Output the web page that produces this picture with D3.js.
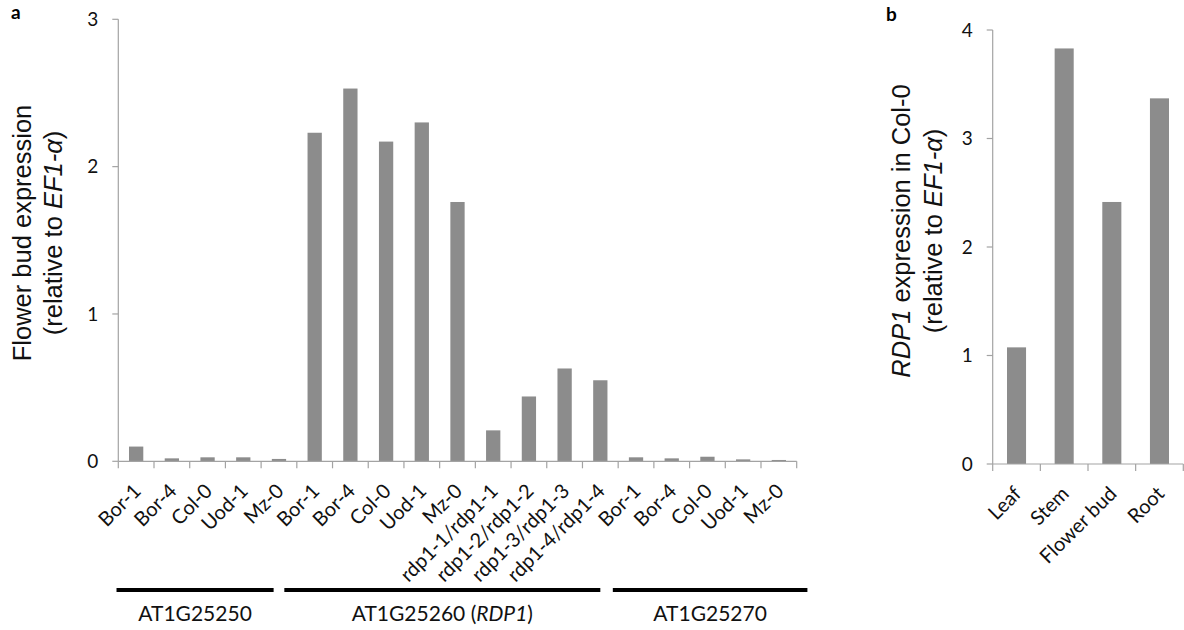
<!DOCTYPE html>
<html>
<head>
<meta charset="utf-8">
<script src="https://cdn.jsdelivr.net/npm/d3@7"></script>
<style>
  body { margin: 0; background: #fff; }
  svg { display: block; }
  .tick-label { font-family: Lato, "Open Sans", sans-serif; font-size: 19px; fill: #111; }
  .cat-label { font-family: Lato, "Open Sans", sans-serif; font-size: 20px; fill: #111; }
  .title { font-family: "Liberation Sans", Arial, sans-serif; font-size: 25.5px; fill: #111; }
  .group-label { font-family: Lato, "Open Sans", sans-serif; font-size: 21px; fill: #111; }
  .panel { font-family: Lato, sans-serif; font-size: 19px; font-weight: bold; fill: #000; }
</style>
</head>
<body>
<svg width="1184" height="630"></svg>
<script>
// panel a: flower bud expression per accession, three genes
var categoriesA = ['Bor-1', 'Bor-4', 'Col-0', 'Uod-1', 'Mz-0',
    'Bor-1', 'Bor-4', 'Col-0', 'Uod-1', 'Mz-0',
    'rdp1-1/rdp1-1', 'rdp1-2/rdp1-2', 'rdp1-3/rdp1-3', 'rdp1-4/rdp1-4',
    'Bor-1', 'Bor-4', 'Col-0', 'Uod-1', 'Mz-0'];
var valuesA = [0.10, 0.02, 0.027, 0.027, 0.016,
    2.23, 2.53, 2.17, 2.30, 1.76,
    0.21, 0.44, 0.63, 0.55,
    0.027, 0.02, 0.031, 0.013, 0.009];
var ticksA = [0, 1, 2, 3];

// gene groups under panel a: label and span in category units
var groupNames = ['AT1G25250', 'AT1G25260', 'AT1G25270'];
var groupItalic = ['', 'RDP1', ''];
var groupFrom = [-0.05, 4.65, 13.85];
var groupTo = [4.35, 13.5, 19.3];

// panel b: RDP1 expression per tissue
var categoriesB = ['Leaf', 'Stem', 'Flower bud', 'Root'];
var valuesB = [1.075, 3.83, 2.415, 3.37];
var ticksB = [0, 1, 2, 3, 4];

var barColor = '#8c8c8c';
var axisColor = '#a3a3a3';
var svg = d3.select('svg');

function drawPanel(opts) {
    var cats = opts.categories.map(function (c, i) { return i; });
    var x = d3.scaleBand().domain(cats).range([opts.left, opts.right]).paddingInner(0).paddingOuter(0);
    var y = d3.scaleLinear().domain([0, opts.max]).range([opts.bottom, opts.top]);
    var g = svg.append('g');

    // bars
    g.selectAll('rect.bar')
        .data(opts.values)
        .enter().append('rect')
        .classed('bar', true)
        .attr('x', function (d, i) { return x(i) + x.bandwidth() * 0.3; })
        .attr('width', x.bandwidth() * 0.4)
        .attr('y', function (d) { return y(d); })
        .attr('height', function (d) { return y(0) - y(d); })
        .attr('fill', barColor);

    // y axis
    g.append('line')
        .attr('x1', opts.left).attr('x2', opts.left)
        .attr('y1', y(opts.max)).attr('y2', y(0))
        .attr('stroke', axisColor).attr('stroke-width', 1.2);
    g.selectAll('line.ytick')
        .data(opts.ticks)
        .enter().append('line')
        .attr('x1', opts.left - 6).attr('x2', opts.left)
        .attr('y1', function (d) { return y(d); })
        .attr('y2', function (d) { return y(d); })
        .attr('stroke', axisColor).attr('stroke-width', 1.2);
    g.selectAll('text.ylab')
        .data(opts.ticks)
        .enter().append('text')
        .attr('class', 'tick-label')
        .attr('x', opts.left - 20)
        .attr('y', function (d) { return y(d); })
        .attr('dy', '0.36em')
        .attr('text-anchor', 'end')
        .text(function (d) { return d; });

    // x axis with ticks on band edges
    g.append('line')
        .attr('x1', opts.left).attr('x2', opts.right)
        .attr('y1', y(0)).attr('y2', y(0))
        .attr('stroke', axisColor).attr('stroke-width', 1.2);
    var edges = cats.map(function (i) { return x(i); }).concat([opts.right]);
    g.selectAll('line.xtick')
        .data(edges)
        .enter().append('line')
        .attr('x1', function (d) { return d; })
        .attr('x2', function (d) { return d; })
        .attr('y1', y(0)).attr('y2', y(0) + 7)
        .attr('stroke', axisColor).attr('stroke-width', 1.2);
    g.selectAll('text.xlab')
        .data(opts.categories)
        .enter().append('text')
        .attr('class', 'cat-label')
        .attr('text-anchor', 'end')
        .attr('transform', function (d, i) {
            return 'translate(' + (x(i) + x.bandwidth() / 2 + 6) + ',' + (y(0) + 31) + ') rotate(-45)';
        })
        .text(function (d) { return d; });

    return { x: x, y: y };
}

var a = drawPanel({
    categories: categoriesA, values: valuesA, ticks: ticksA, max: 3,
    left: 118.3, right: 796.7, top: 19.3, bottom: 461.3
});
drawPanel({
    categories: categoriesB, values: valuesB, ticks: ticksB, max: 4,
    left: 992.7, right: 1183.3, top: 30, bottom: 464
});

// gene group bars and labels
var unitA = a.x.bandwidth();
groupNames.forEach(function (name, i) {
    var x1 = a.x(0) + groupFrom[i] * unitA;
    var x2 = a.x(0) + groupTo[i] * unitA;
    svg.append('line')
        .attr('x1', x1).attr('x2', x2)
        .attr('y1', 590).attr('y2', 590)
        .attr('stroke', '#000').attr('stroke-width', 4);
    var t = svg.append('text')
        .attr('class', 'group-label')
        .attr('x', (x1 + x2) / 2).attr('y', 621)
        .attr('text-anchor', 'middle')
        .text(name);
    if (groupItalic[i]) {
        t.append('tspan').text(' (');
        t.append('tspan').attr('font-style', 'italic').text(groupItalic[i]);
        t.append('tspan').text(')');
    }
});

// axis titles
function yTitle(cx, cy, first, gap) {
    var g = svg.append('g').attr('transform', 'translate(' + cx + ',' + cy + ') rotate(-90)');
    var t1 = g.append('text').attr('class', 'title').attr('text-anchor', 'middle').attr('y', 0);
    first(t1);
    var t2 = g.append('text').attr('class', 'title').attr('text-anchor', 'middle').attr('y', gap);
    t2.append('tspan').text('(relative to ');
    t2.append('tspan').attr('font-style', 'italic').text('EF1-α');
    t2.append('tspan').text(')');
}
yTitle(31, 233, function (t) { t.text('Flower bud expression'); }, 31);
yTitle(910, 231, function (t) {
    t.append('tspan').attr('font-style', 'italic').text('RDP1');
    t.append('tspan').text(' expression in Col-0');
}, 32);

// panel letters
svg.append('text').attr('class', 'panel').attr('x', 11).attr('y', 19).text('a');
svg.append('text').attr('class', 'panel').attr('x', 886).attr('y', 21).text('b');
</script>
</body>
</html>
